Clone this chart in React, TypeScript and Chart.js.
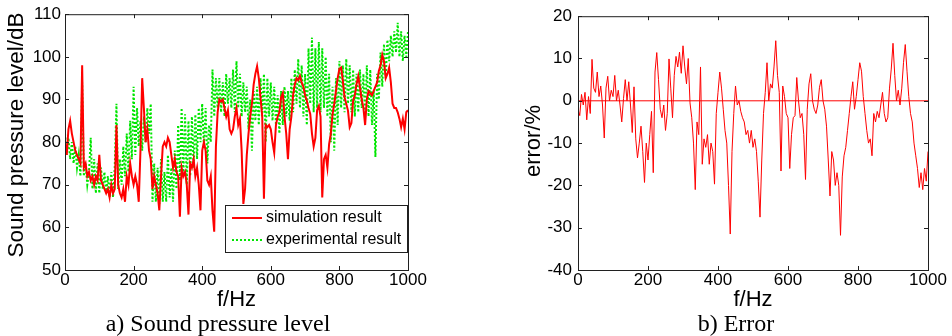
import React, { useEffect, useRef } from "react";
import { Chart, registerables } from "chart.js";

Chart.register(...registerables);

const FONT = '"Liberation Sans", Arial, Helvetica, sans-serif';
const SERIF = '"Liberation Serif", "Times New Roman", serif';

const STEP_HZ = 5;

// Simulated sound pressure level (dB), 0..1000 Hz every 5 Hz
const SIM_DB = [
  80, 77, 83, 85, 82, 80, 78, 77, 76, 75,
  98, 74, 75, 72, 73, 71, 72, 70, 72, 71,
  77, 71, 70, 69, 68, 69, 67, 70, 68, 69,
  84, 70, 68, 67, 69, 66, 72, 70, 75, 72,
  70, 72, 70, 66, 78, 95, 88, 80, 83, 78,
  76, 69, 72, 70, 68, 64, 72, 79, 80, 79,
  81, 80, 77, 74, 76, 73, 72, 62.5, 74, 72,
  73, 70, 63, 75, 74, 76, 72, 74, 70, 64,
  78, 80, 78, 71, 70, 72, 64, 59, 79, 87,
  90, 89.5, 90, 88, 86, 87.5, 83, 82, 83, 86,
  88, 84, 85.5, 78, 65.5, 69, 77, 82, 86, 89,
  93.5, 96, 97.8, 95, 90.5, 86, 66.7, 84, 83.5, 84,
  83, 80, 77.5, 84, 86, 87, 90.5, 91.5, 86, 82,
  76, 83, 86, 91, 93.5, 95, 94.5, 95.5, 94, 93,
  91, 89.7, 88, 86.6, 82, 79, 81, 87.5, 88.5, 86,
  67, 76, 77, 74, 79.5, 82, 86.5, 89, 92, 95,
  97.2, 97.5, 94.4, 90.5, 89, 87.4, 83.5, 84.5, 89.7, 91,
  93.6, 95.5, 92.8, 90, 88, 84, 90, 92, 91.5, 91,
  92, 93, 94, 96.7, 98, 100.5, 99, 95, 96, 97.5,
  94, 89, 88, 88, 87, 85.5, 83.5, 85.5, 83, 87,
  87.5,
];

// Measured sound pressure level (dB)
const EXP_DB = [
  82, 77, 81, 76, 80, 75, 79, 74, 77, 72,
  94, 72, 75, 70, 73, 81, 69, 76, 68, 75,
  68, 74, 69, 73, 68, 72, 67, 73, 67, 74,
  89, 69, 76, 70, 79, 72, 82, 73, 85, 76,
  93, 77, 88, 79, 85, 78, 86, 80, 88, 82,
  89, 66, 75, 66, 74, 65.5, 76, 66, 73, 66,
  77, 67, 74, 66, 78, 69, 84, 71, 88, 72,
  86.5, 70, 85, 72, 86, 74, 86.5, 76, 88, 80,
  89, 79, 88, 75, 84, 80, 97, 86, 95, 88,
  95, 87, 94, 86, 96, 89, 95, 88, 97, 87,
  99, 88, 96, 86, 94, 87, 93, 83, 90, 78,
  92, 85, 93, 84, 95, 86, 96, 80, 95, 86,
  94, 85, 93, 84, 91, 82, 92, 84, 93, 86,
  92, 85, 95, 87, 97, 89, 99.5, 88, 98, 86,
  96, 84, 102, 89, 104.5, 87, 102, 88, 103.5, 87,
  102, 88, 100, 86, 96, 80, 93, 78, 95, 84,
  99, 88, 98, 87, 99.5, 89, 98, 87, 97, 86,
  96, 87, 97, 88, 96, 86, 98, 86, 97, 84,
  92, 76.5, 96, 90, 101, 93, 103, 95, 104, 99,
  105, 100, 106, 101, 108, 100, 106, 99, 105, 100,
  106,
];

// Relative error (%)
const ERR_PCT = [
  -2, -3.5, 1.5, -1, 2, -4.5, 1, -3, 9.8, 3,
  2, 6.8, 1, 3.5, -1, -8.8, 3, 5.8, 0, 2.5,
  1, 6, 0, 2.5, -1, -5, 0.5, 5, 0, 4.5,
  -1, -7.5, 3.3, -9, -13.5, -10, -6, -12, -19.3, -10,
  -14, -8, -2.5, -17, 6.8, 11.4, 5, -2, -4, -1,
  -7, -3, 9.9, 3, -4, 6, 10.5, 8, 11.5, 6.5,
  13, 8, 4, 10, -0.5, -4, -10, -21, -5, -8,
  8, -15, -9, -11, -8, -15, -10, -12, -19.7, -3,
  2, 6.8, 3, -2, -7, -10, -20, -31.5, -12, -3,
  3.5, -1, 0, -2.5, -4, -5, -8, -7, -10, -7,
  -11, -9, -12, -19, -27.5, -14, -3, 2, 9, 0,
  4, 3, 8, 14.2, 6, 2, -16.6, 3.5, 1, -3,
  -4, -16, -8, -4, -3.5, 5.5, 0, -4, -3, -8,
  -18.6, -2, 4, 6.4, 0, -2, -3, -1, 3.2, 5,
  0, -2, -6, -14, -22.5, -12, -14, -20, -17, -20,
  -31.8, -18, -13, -11, -7, -3, 1, 4.5, -2, 1,
  5, 9, 7, 1, -3, -7, -10, -9, -13, -3,
  -5, -2.5, -4, -1, 2, -3, -5, -4, 3, 7.5,
  13.6, 6, 0, 2.5, -1, 3, 9, 13.3, 7, 1,
  -3, -5, -10, -13, -16, -20.5, -17, -21, -16, -19,
  -12,
];

const FREQ_TICKS = [0, 200, 400, 600, 800, 1000];
const SPL_TICKS = [50, 60, 70, 80, 90, 100, 110];
const ERR_TICKS = [-40, -30, -20, -10, 0, 10, 20];

const SERIES_NAMES = ["simulation result", "experimental result"];

const RED = "#ff0000";
const GREEN = "#00e600";

type DecorCfg = {
  xTicks: number[];
  yTicks: number[];
  xTitle: string;
  yTitle: string;
  yTitleX: number;
  yTitleY: number;
  yTitleSize: number;
  legend: boolean;
};

function makeDecor(cfg: DecorCfg) {
  return {
    id: "decor",
    afterDatasetsDraw(chart: any) {
      const { ctx, chartArea: a, scales } = chart;
      const L = a.left, R = a.right, T = a.top, B = a.bottom;
      ctx.save();
      ctx.strokeStyle = "#202020";
      ctx.lineWidth = 1;
      ctx.strokeRect(L + 0.5, T + 0.5, R - L, B - T);
      const TL = 4;
      ctx.beginPath();
      for (const v of cfg.xTicks) {
        const x = Math.round(scales.x.getPixelForValue(v)) + 0.5;
        ctx.moveTo(x, B); ctx.lineTo(x, B - TL);
        ctx.moveTo(x, T); ctx.lineTo(x, T + TL);
      }
      for (const v of cfg.yTicks) {
        const y = Math.round(scales.y.getPixelForValue(v)) + 0.5;
        ctx.moveTo(L, y); ctx.lineTo(L + TL, y);
        ctx.moveTo(R, y); ctx.lineTo(R - TL, y);
      }
      ctx.stroke();

      ctx.fillStyle = "#000";
      ctx.font = `22px ${FONT}`;
      ctx.textAlign = "center";
      ctx.textBaseline = "middle";
      ctx.fillText(cfg.xTitle, (L + R) / 2, 300);
      ctx.save();
      ctx.font = `${cfg.yTitleSize}px ${FONT}`;
      ctx.translate(cfg.yTitleX, cfg.yTitleY);
      ctx.rotate(-Math.PI / 2);
      ctx.fillText(cfg.yTitle, 0, 0);
      ctx.restore();

      if (cfg.legend) {
        const bx = 225, by = 205, bw = 182, bh = 47;
        ctx.fillStyle = "#fff";
        ctx.fillRect(bx, by, bw, bh);
        ctx.strokeStyle = "#202020";
        ctx.lineWidth = 1;
        ctx.strokeRect(bx + 0.5, by + 0.5, bw, bh);
        const ds = chart.data.datasets;
        const rows = [218, 240];
        for (let i = 0; i < 2; i++) {
          ctx.strokeStyle = ds[i].borderColor;
          ctx.lineWidth = 2;
          ctx.setLineDash(ds[i].borderDash || []);
          ctx.beginPath();
          ctx.moveTo(232, rows[i]);
          ctx.lineTo(262, rows[i]);
          ctx.stroke();
          ctx.setLineDash([]);
          ctx.fillStyle = "#000";
          ctx.font = `16px ${FONT}`;
          ctx.textAlign = "left";
          ctx.textBaseline = "middle";
          ctx.fillText(ds[i].label, 266, rows[i]);
        }
      }
      ctx.restore();
    },
  };
}

function plainTick(value: any) {
  return String(value);
}

function xScale() {
  return {
    type: "linear" as const,
    min: 0,
    max: 1000,
    afterBuildTicks: (s: any) => {
      s.ticks = FREQ_TICKS.map((v) => ({ value: v }));
    },
    afterFit: (s: any) => {
      s.height = 66;
    },
    grid: { display: false, drawTicks: false },
    border: { display: false },
    ticks: {
      padding: 0,
      color: "#000",
      autoSkip: false,
      maxRotation: 0,
      callback: plainTick,
      font: { family: FONT, size: 17 },
    },
  };
}

function yScale(min: number, max: number, ticks: number[], width: number, pad: number) {
  return {
    type: "linear" as const,
    min,
    max,
    afterBuildTicks: (s: any) => {
      s.ticks = ticks.map((v) => ({ value: v }));
    },
    afterFit: (s: any) => {
      s.width = width;
    },
    grid: { display: false, drawTicks: false },
    border: { display: false },
    ticks: {
      padding: pad,
      color: "#000",
      autoSkip: false,
      callback: plainTick,
      font: { family: FONT, size: 17 },
    },
  };
}

export default function App() {
  const leftRef = useRef<HTMLCanvasElement>(null);
  const rightRef = useRef<HTMLCanvasElement>(null);

  useEffect(() => {
    const freqs = SIM_DB.map((_, i) => i * STEP_HZ);
    const left = new Chart(leftRef.current as HTMLCanvasElement, {
      type: "line",
      data: {
        datasets: [
          {
            label: SERIES_NAMES[0],
            data: freqs.map((f, i) => ({ x: f, y: SIM_DB[i] })),
            borderColor: RED,
            borderWidth: 2,
            pointRadius: 0,
            tension: 0,
          },
          {
            label: SERIES_NAMES[1],
            data: freqs.map((f, i) => ({ x: f, y: EXP_DB[i] })),
            borderColor: GREEN,
            borderWidth: 2,
            borderDash: [2, 2],
            pointRadius: 0,
            tension: 0,
          },
        ],
      },
      options: {
        animation: false,
        responsive: false,
        maintainAspectRatio: false,
        devicePixelRatio: 1,
        layout: { padding: { left: 0, top: 13, right: 72, bottom: 0 } },
        plugins: { legend: { display: false }, tooltip: { enabled: false } },
        scales: {
          x: xScale(),
          y: yScale(50, 110, SPL_TICKS, 65, 4),
        },
      } as any,
      plugins: [
        makeDecor({
          xTicks: FREQ_TICKS,
          yTicks: SPL_TICKS,
          xTitle: "f/Hz",
          yTitle: "Sound pressure level/dB",
          yTitleX: 17,
          yTitleY: 135,
          yTitleSize: 22.5,
          legend: true,
        }),
      ],
    });

    const right = new Chart(rightRef.current as HTMLCanvasElement, {
      type: "line",
      data: {
        datasets: [
          {
            label: "error",
            data: freqs.map((f, i) => ({ x: f, y: ERR_PCT[i] })),
            borderColor: RED,
            borderWidth: 1,
            pointRadius: 0,
            tension: 0,
          },
          {
            label: "zero",
            data: [
              { x: 0, y: 0 },
              { x: 1000, y: 0 },
            ],
            borderColor: RED,
            borderWidth: 1,
            pointRadius: 0,
          },
        ],
      },
      options: {
        animation: false,
        responsive: false,
        maintainAspectRatio: false,
        devicePixelRatio: 1,
        layout: { padding: { left: 0, top: 13, right: 24, bottom: 0 } },
        plugins: { legend: { display: false }, tooltip: { enabled: false } },
        scales: {
          x: xScale(),
          y: yScale(-40, 20, ERR_TICKS, 98, 6),
        },
      } as any,
      plugins: [
        makeDecor({
          xTicks: FREQ_TICKS,
          yTicks: ERR_TICKS,
          xTitle: "f/Hz",
          yTitle: "error/%",
          yTitleX: 54,
          yTitleY: 141,
          yTitleSize: 22,
          legend: false,
        }),
      ],
    });

    return () => {
      left.destroy();
      right.destroy();
    };
  }, []);

  const captionStyle: React.CSSProperties = {
    position: "absolute",
    top: 308,
    fontFamily: SERIF,
    fontSize: 24,
    lineHeight: "30px",
    color: "#000",
    whiteSpace: "nowrap",
    transform: "translateX(-50%)",
  };

  return (
    <div
      style={{
        position: "fixed",
        left: 0,
        top: 0,
        width: 952,
        height: 336,
        background: "#fff",
        overflow: "hidden",
      }}
    >
      <canvas
        ref={leftRef}
        width={480}
        height={336}
        style={{ position: "absolute", left: 0, top: 0, width: 480, height: 336 }}
      />
      <canvas
        ref={rightRef}
        width={472}
        height={336}
        style={{ position: "absolute", left: 480, top: 0, width: 472, height: 336 }}
      />
      <div style={{ ...captionStyle, left: 218 }}>a) Sound pressure level</div>
      <div style={{ ...captionStyle, left: 736 }}>b) Error</div>
    </div>
  );
}
